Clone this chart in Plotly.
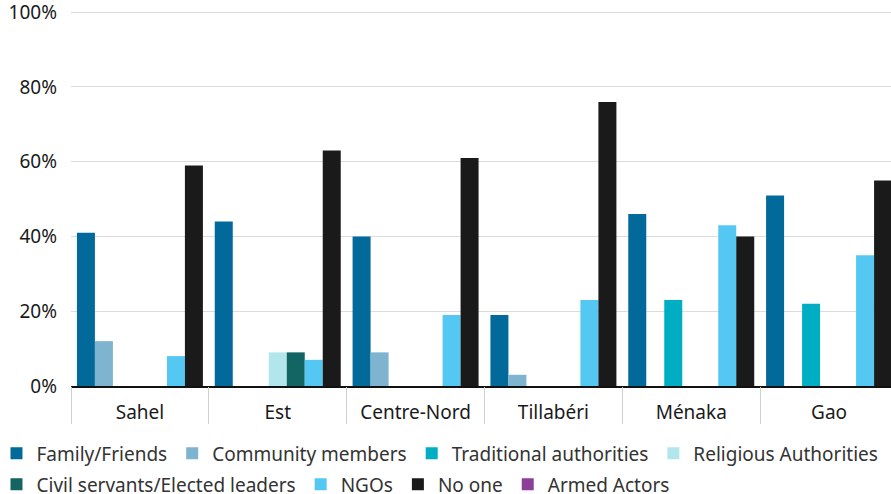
import plotly.graph_objects as go

regions = ["Sahel", "Est", "Centre-Nord", "Tillabéri", "Ménaka", "Gao"]
family_friends = [41, 44, 40, 19, 46, 51]
community_members = [12, 0, 9, 3, 0, 0]
traditional_authorities = [0, 0, 0, 0, 23, 22]
religious_authorities = [0, 9, 0, 0, 0, 0]
civil_servants = [0, 9, 0, 0, 0, 0]
ngos = [8, 7, 19, 23, 43, 35]
no_one = [59, 63, 61, 76, 40, 55]
armed_actors = [None, None, None, None, None, None]
y_tick_values = [0, 20, 40, 60, 80, 100]
y_tick_labels = ["0%", "20%", "40%", "60%", "80%", "100%"]

series = [
    ("Family/Friends", family_friends, "#02699b", "legend"),
    ("Community members", community_members, "#7fb4d0", "legend"),
    ("Traditional authorities", traditional_authorities, "#00aec4", "legend"),
    ("Religious Authorities", religious_authorities, "#b3e6ec", "legend"),
    ("Civil servants/Elected leaders", civil_servants, "#126563", "legend2"),
    ("NGOs", ngos, "#54c8f2", "legend2"),
    ("No one", no_one, "#1a1a1a", "legend2"),
]

FONT = "Noto Sans"
TXT = "#1a1a1a"
fig = go.Figure()
for name, vals, col, lg in series:
    fig.add_trace(go.Bar(name=name, x=regions, y=vals, marker_color=col,
                         marker_line_width=0, legend=lg))
fig.add_trace(go.Bar(name="Armed Actors", x=regions, y=armed_actors,
                     marker_color="#8b3f98", marker_line_width=0, xaxis="x2",
                     legend="legend2"))

leg_common = dict(orientation="h", x=-0.0901, xanchor="left", yanchor="top",
                  font=dict(family=FONT, size=19, color="#333333"),
                  traceorder="normal", itemclick=False, bgcolor="rgba(0,0,0,0)")

# The original chart runs a few pixels past the right edge of the window
fig.update_layout(
    width=898, height=494,
    margin=dict(l=71, r=0, t=10, b=108, autoexpand=False),
    paper_bgcolor="white", plot_bgcolor="white",
    barmode="group", bargap=0.086, bargroupgap=0,
    font=dict(family=FONT, size=19, color=TXT),
    xaxis=dict(type="category", range=[-0.5, 5.5], showline=True, linecolor="#111111",
               linewidth=1.5, ticks="outside", ticklen=8, tickcolor="rgba(0,0,0,0)",
               showgrid=False, tickfont=dict(family=FONT, size=19, color=TXT)),
    xaxis2=dict(type="category", overlaying="x", side="bottom", range=[-0.5, 5.5],
                showticklabels=False, ticks="outside", ticklen=37, tickcolor="#d0d0d0",
                tickwidth=1, tickson="boundaries", showgrid=False, showline=False),
    yaxis=dict(range=[0, 100.6], tickmode="array", tickvals=y_tick_values,
               ticktext=y_tick_labels, showgrid=True, gridcolor="#dcdcdc", gridwidth=1,
               zeroline=False, showline=False, ticks="", ticklabeloverflow="allow",
               tickfont=dict(family=FONT, size=19, color=TXT), ticklabelstandoff=13),
    legend=dict(leg_common, y=-0.129),
    legend2=dict(leg_common, y=-0.2115),
    showlegend=True,
)
fig.write_html("out.html", config={"displayModeBar": False},
               post_script="document.body.style.margin='0';document.body.style.overflow='hidden';")
